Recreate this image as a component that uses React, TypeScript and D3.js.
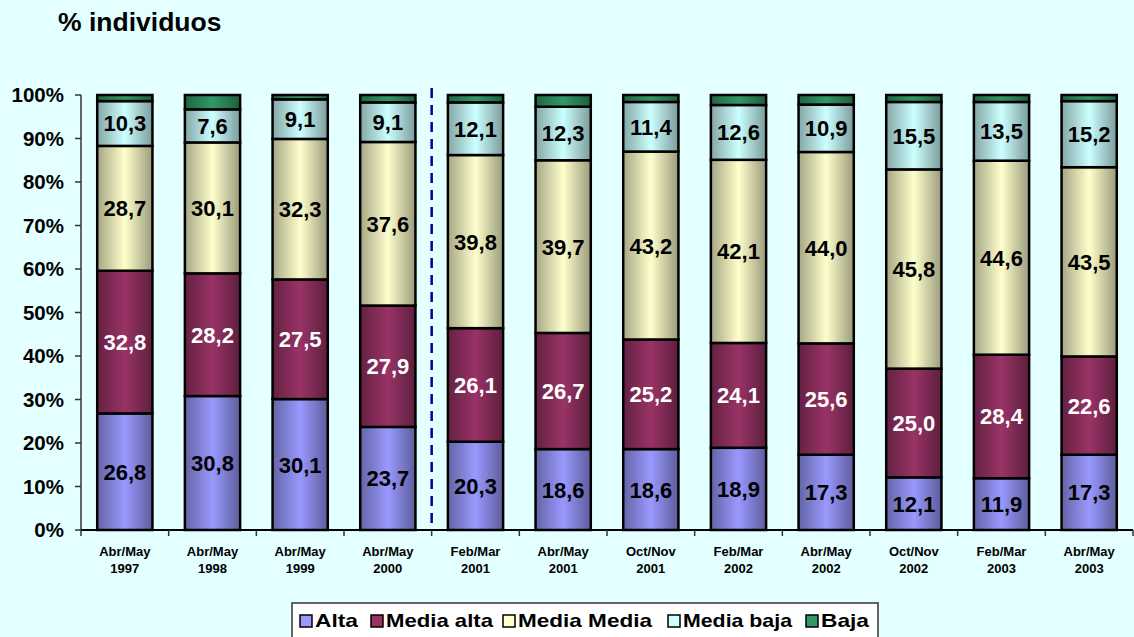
import React, { useEffect, useRef } from 'react';
import * as d3 from 'd3';

// periods (two-line labels)
const periods = [
  ['Abr/May', '1997'], ['Abr/May', '1998'], ['Abr/May', '1999'], ['Abr/May', '2000'],
  ['Feb/Mar', '2001'], ['Abr/May', '2001'], ['Oct/Nov', '2001'], ['Feb/Mar', '2002'],
  ['Abr/May', '2002'], ['Oct/Nov', '2002'], ['Feb/Mar', '2003'], ['Abr/May', '2003'],
];

const alta = [26.8, 30.8, 30.1, 23.7, 20.3, 18.6, 18.6, 18.9, 17.3, 12.1, 11.9, 17.3];
const mediaAlta = [32.8, 28.2, 27.5, 27.9, 26.1, 26.7, 25.2, 24.1, 25.6, 25.0, 28.4, 22.6];
const mediaMedia = [28.7, 30.1, 32.3, 37.6, 39.8, 39.7, 43.2, 42.1, 44.0, 45.8, 44.6, 43.5];
const mediaBaja = [10.3, 7.6, 9.1, 9.1, 12.1, 12.3, 11.4, 12.6, 10.9, 15.5, 13.5, 15.2];
const baja = [1.4, 3.3, 1.0, 1.7, 1.7, 2.7, 1.6, 2.3, 2.2, 1.6, 1.6, 1.4];

const seriesNames = ['Alta', 'Media alta', 'Media Media', 'Media baja', 'Baja'];
const seriesValues = [alta, mediaAlta, mediaMedia, mediaBaja, baja];
const seriesColors = ['#9999FF', '#993366', '#FFFFCC', '#CCFFFF', '#339966'];
const labelColors = ['#000', '#fff', '#000', '#000', null];

const yTicks = [0, 10, 20, 30, 40, 50, 60, 70, 80, 90, 100];

const App = () => {
  const ref = useRef(null);

  useEffect(() => {
    document.body.style.margin = '0';
    const svg = d3.select(ref.current);
    svg.selectAll('*').remove();

    const W = 1134, H = 637;
    const left = 81, right = 1133, top = 95, bottom = 530;
    const font = 'Arial, "Liberation Sans", sans-serif';

    svg.append('rect').attr('width', W).attr('height', H).attr('fill', '#E3FFFF');

    // gradients
    const defs = svg.append('defs');
    seriesColors.forEach((c, i) => {
      const g = defs.append('linearGradient').attr('id', 'grad' + i)
        .attr('x1', 0).attr('x2', 1).attr('y1', 0).attr('y2', 0);
      g.append('stop').attr('offset', '0%').attr('stop-color', d3.color(c).darker(1.2).formatHex());
      g.append('stop').attr('offset', '50%').attr('stop-color', c);
      g.append('stop').attr('offset', '100%').attr('stop-color', d3.color(c).darker(1.4).formatHex());
    });

    const x = d3.scaleBand().domain(d3.range(periods.length)).range([left, right]).paddingInner(0.37).paddingOuter(0.185);
    const y = d3.scaleLinear().domain([0, 100]).range([bottom, top]);

    // title
    svg.append('text').attr('x', 58).attr('y', 31).text('% individuos')
      .attr('font-family', font).attr('font-weight', 'bold').attr('font-size', 26.5).attr('fill', '#000');

    // y axis
    const yAxis = svg.append('g');
    yAxis.append('line').attr('x1', left).attr('x2', left).attr('y1', y(100)).attr('y2', y(0))
      .attr('stroke', '#333').attr('stroke-width', 1.5);
    yTicks.forEach(t => {
      yAxis.append('line').attr('x1', left - 6).attr('x2', left).attr('y1', y(t)).attr('y2', y(t))
        .attr('stroke', '#333').attr('stroke-width', 1.5);
      yAxis.append('text').attr('x', 64).attr('y', y(t) + 7).attr('text-anchor', 'end')
        .attr('font-family', font).attr('font-weight', 'bold').attr('font-size', 20.5).text(t + '%');
    });

    // x axis
    const step = x.step();
    svg.append('line').attr('x1', left).attr('x2', right).attr('y1', bottom).attr('y2', bottom)
      .attr('stroke', '#000').attr('stroke-width', 2);
    d3.range(periods.length + 1).forEach(i => {
      const xx = left + i * step;
      svg.append('line').attr('x1', xx).attr('x2', xx).attr('y1', bottom).attr('y2', bottom + 6)
        .attr('stroke', '#333').attr('stroke-width', 1.5);
    });
    periods.forEach((p, i) => {
      const cx = x(i) + x.bandwidth() / 2;
      p.forEach((line, k) => {
        svg.append('text').attr('x', cx).attr('y', 556 + k * 17).attr('text-anchor', 'middle')
          .attr('font-family', font).attr('font-weight', 'bold').attr('font-size', 13).text(line);
      });
    });

    // stacked bars
    const stacked = periods.map((_, i) => {
      let acc = 0;
      return seriesValues.map((s, k) => {
        const y0 = acc;
        acc += s[i];
        return { k, y0, y1: acc, v: s[i] };
      });
    });

    stacked.forEach((segs, i) => {
      const g = svg.append('g');
      segs.forEach(s => {
        g.append('rect').attr('x', x(i)).attr('width', x.bandwidth())
          .attr('y', y(s.y1)).attr('height', y(s.y0) - y(s.y1))
          .attr('fill', `url(#grad${s.k})`).attr('stroke', '#000').attr('stroke-width', 2.5);
      });
      segs.forEach(s => {
        if (!labelColors[s.k]) return;
        g.append('text').attr('x', x(i) + x.bandwidth() / 2).attr('y', y((s.y0 + s.y1) / 2) + 8)
          .attr('text-anchor', 'middle').attr('font-family', font).attr('font-weight', 'bold')
          .attr('font-size', 22).attr('fill', labelColors[s.k])
          .text(d3.format('.1f')(s.v).replace('.', ','));
      });
    });

    // dashed separator
    const sepX = left + 4 * step;
    svg.append('line').attr('x1', sepX).attr('x2', sepX).attr('y1', 88).attr('y2', bottom)
      .attr('stroke', '#000099').attr('stroke-width', 2.5).attr('stroke-dasharray', '10,7');

    // legend
    const lg = svg.append('g');
    lg.append('rect').attr('x', 292).attr('y', 603).attr('width', 586).attr('height', 40)
      .attr('fill', '#fff').attr('stroke', '#333').attr('stroke-width', 1.5);
    const legendX = [300, 371, 503, 668, 806];
    const legendW = [43, 107, 134, 109, 48];
    seriesNames.forEach((n, k) => {
      lg.append('rect').attr('x', legendX[k]).attr('y', 615).attr('width', 12).attr('height', 12)
        .attr('fill', seriesColors[k]).attr('stroke', '#000').attr('stroke-width', 1.5);
      lg.append('text').attr('x', legendX[k] + 15).attr('y', 627).attr('font-family', font)
        .attr('font-weight', 'bold').attr('font-size', 19)
        .attr('textLength', legendW[k]).attr('lengthAdjust', 'spacingAndGlyphs').text(n);
    });
  }, []);

  return (
    <div>
      <svg ref={ref} width={1134} height={637} style={{ display: 'block' }}></svg>
    </div>
  );
};

export default App;
